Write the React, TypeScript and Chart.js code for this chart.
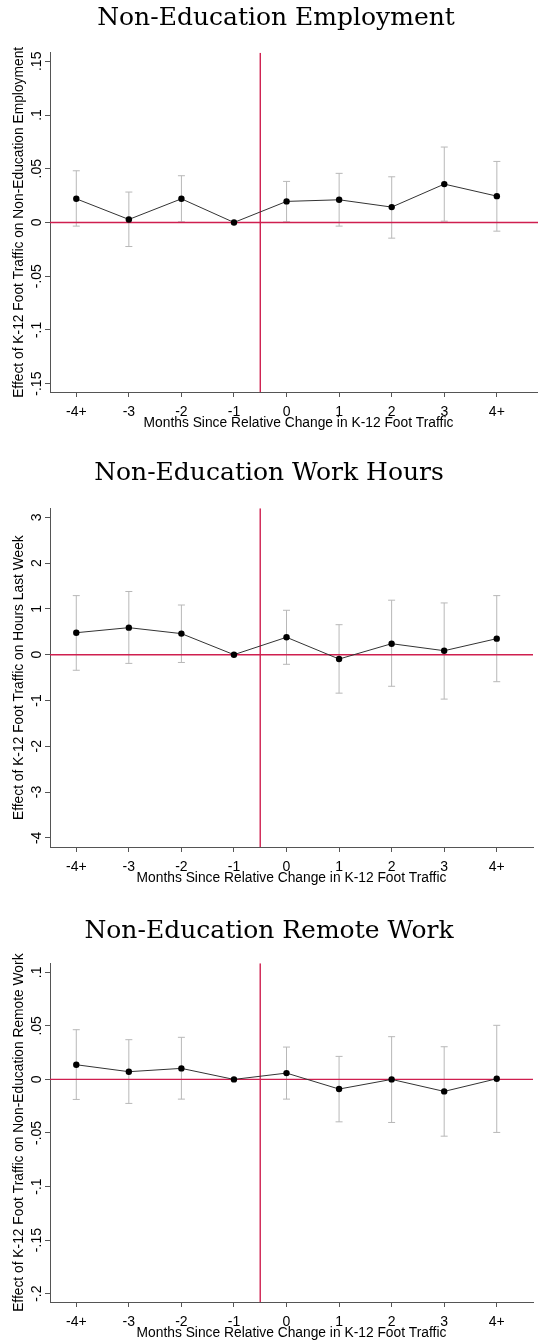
import React, { useEffect, useRef } from "react";
import { Chart, registerables } from "chart.js";

Chart.register(...registerables);

// ---------- data ----------
const categories = ["-4+", "-3", "-2", "-1", "0", "1", "2", "3", "4+"];
const xPositions = [0, 1, 2, 3, 4, 5, 6, 7, 8];
const xMin = -0.5;
const eventAt = 3.5; // between "-1" and "0"

const empEst = [0.022, 0.0028, 0.022, 0, 0.0196, 0.0211, 0.0143, 0.0357, 0.0245];
const empLo = [-0.0034, -0.0224, 0.0006, null, 0.0006, -0.0034, -0.0146, 0.0012, -0.0081];
const empHi = [0.0481, 0.0283, 0.0435, null, 0.0382, 0.0457, 0.0425, 0.0702, 0.0568];
const empTicks = [-0.15, -0.1, -0.05, 0, 0.05, 0.1, 0.15];
const empTickLabels = ["-.15", "-.1", "-.05", "0", ".05", ".1", ".15"];

const hrsEst = [0.48, 0.59, 0.46, 0, 0.38, -0.095, 0.24, 0.087, 0.35];
const hrsLo = [-0.34, -0.19, -0.17, null, -0.21, -0.84, -0.69, -0.97, -0.59];
const hrsHi = [1.29, 1.38, 1.085, null, 0.97, 0.655, 1.19, 1.13, 1.29];
const hrsTicks = [-4, -3, -2, -1, 0, 1, 2, 3];
const hrsTickLabels = ["-4", "-3", "-2", "-1", "0", "1", "2", "3"];

const remEst = [0.0137, 0.0072, 0.0103, 0, 0.0059, -0.009, 0, -0.0112, 0.0006];
const remLo = [-0.0187, -0.0224, -0.0184, null, -0.0184, -0.0396, -0.0402, -0.053, -0.0495];
const remHi = [0.0464, 0.0371, 0.0393, null, 0.0302, 0.0215, 0.0399, 0.0305, 0.0505];
const remTicks = [-0.2, -0.15, -0.1, -0.05, 0, 0.05, 0.1];
const remTickLabels = ["-.2", "-.15", "-.1", "-.05", "0", ".05", ".1"];

const xTitle = "Months Since Relative Change in K-12 Foot Traffic";

// ---------- styles ----------
const RED = "#cf1f4f";
const CI_GRAY = "#b8b8b8";
const AXIS = "#555555";
const SANS = '"Liberation Sans", Arial, sans-serif';
const SERIF = '"DejaVu Serif", serif';
const TICK_SIZE = 14;
const TITLE_SIZE = 13.8;
const Y_AXIS_WIDTH = 50;
const X_AXIS_HEIGHT = 42;
const TICK_LEN = 5;

type Panel = {
  title: string;
  yTitle: string;
  est: number[];
  lo: (number | null)[];
  hi: (number | null)[];
  yTicks: number[];
  yTickLabels: string[];
  yMin: number;
  yMax: number;
  xMax: number;
  top: number;
  width: number;
  height: number;
  titlePadTop: number;
  titlePadBottom: number;
};

const panels: Panel[] = [
  {
    title: "Non-Education Employment",
    yTitle: "Effect of K-12 Foot Traffic on Non-Education Employment",
    est: empEst, lo: empLo, hi: empHi,
    yTicks: empTicks, yTickLabels: empTickLabels,
    yMin: -0.1578, yMax: 0.158,
    xMax: 8.954,
    top: 0, width: 552, height: 434,
    titlePadTop: 3, titlePadBottom: 19.7,
  },
  {
    title: "Non-Education Work Hours",
    yTitle: "Effect of K-12 Foot Traffic on Hours Last Week",
    est: hrsEst, lo: hrsLo, hi: hrsHi,
    yTicks: hrsTicks, yTickLabels: hrsTickLabels,
    yMin: -4.2, yMax: 3.197,
    xMax: 8.69,
    top: 434, width: 538, height: 455,
    titlePadTop: 24.7, titlePadBottom: 19.6,
  },
  {
    title: "Non-Education Remote Work",
    yTitle: "Effect of K-12 Foot Traffic on Non-Education Remote Work",
    est: remEst, lo: remLo, hi: remHi,
    yTicks: remTicks, yTickLabels: remTickLabels,
    yMin: -0.2078, yMax: 0.1084,
    xMax: 8.69,
    top: 889, width: 538, height: 455,
    titlePadTop: 27.2, titlePadBottom: 17.1,
  },
];

function widestLabel(labels: string[], font: string): number {
  const c = document.createElement("canvas").getContext("2d");
  if (!c) return 20;
  c.font = font;
  return Math.max(...labels.map((l) => c.measureText(l).width));
}

function PanelChart({ p }: { p: Panel }) {
  const ref = useRef<HTMLCanvasElement>(null);

  useEffect(() => {
    if (!ref.current) return;
    const widest = widestLabel(p.yTickLabels, `${TICK_SIZE}px ${SANS}`);
    const yTickPad = Y_AXIS_WIDTH - TICK_LEN - 36.7 - widest / 2;

    const whiskers: { x: number; y: number | null }[] = [];
    const caps: { x: number; y: number }[] = [];
    xPositions.forEach((x, i) => {
      const lo = p.lo[i];
      const hi = p.hi[i];
      if (lo == null || hi == null) return;
      whiskers.push({ x, y: lo }, { x, y: hi }, { x, y: null });
      caps.push({ x, y: lo }, { x, y: hi });
    });

    const chart = new Chart(ref.current, {
      type: "line",
      data: {
        datasets: [
          {
            data: xPositions.map((x, i) => ({ x, y: p.est[i] })),
            borderColor: "#333333",
            borderWidth: 1,
            pointRadius: 3.2,
            pointBackgroundColor: "#000000",
            pointBorderColor: "#000000",
            pointBorderWidth: 0,
            tension: 0,
          },
          {
            data: [
              { x: xMin, y: 0 },
              { x: p.xMax, y: 0 },
            ],
            borderColor: RED,
            borderWidth: 1.4,
            pointRadius: 0,
          },
          {
            data: [
              { x: eventAt, y: p.yMin },
              { x: eventAt, y: p.yMax },
            ],
            borderColor: RED,
            borderWidth: 1.4,
            pointRadius: 0,
          },
          {
            data: caps,
            showLine: false,
            pointStyle: "line",
            pointRadius: 3.5,
            pointBorderColor: CI_GRAY,
            pointBorderWidth: 1,
          },
          {
            data: whiskers,
            borderColor: CI_GRAY,
            borderWidth: 1,
            pointRadius: 0,
            spanGaps: false,
          },
        ],
      } as any,
      options: {
        responsive: false,
        animation: false,
        events: [],
        layout: { padding: 0 },
        plugins: {
          legend: { display: false },
          tooltip: { enabled: false },
          title: {
            display: true,
            text: p.title,
            color: "#000000",
            font: { family: SERIF, size: 25, weight: "normal", lineHeight: 1.2 },
            padding: { top: p.titlePadTop, bottom: p.titlePadBottom },
          },
        },
        scales: {
          x: {
            type: "linear",
            min: xMin,
            max: p.xMax,
            afterBuildTicks: (scale: any) => {
              scale.ticks = xPositions.map((v) => ({ value: v }));
            },
            afterFit: (scale: any) => {
              scale.height = X_AXIS_HEIGHT;
            },
            ticks: {
              autoSkip: false,
              maxRotation: 0,
              minRotation: 0,
              padding: 7,
              color: "#000000",
              font: { family: SANS, size: TICK_SIZE },
              callback: (value: any) => {
                const idx = xPositions.indexOf(Number(value));
                return idx >= 0 ? categories[idx] : "";
              },
            },
            grid: {
              display: true,
              drawOnChartArea: false,
              drawTicks: true,
              tickLength: TICK_LEN,
              tickColor: AXIS,
              tickWidth: 1,
            },
            border: { display: true, color: AXIS, width: 1 },
            title: {
              display: true,
              text: xTitle,
              color: "#000000",
              font: { family: SANS, size: TITLE_SIZE, lineHeight: 1.2 },
              padding: { top: 0, bottom: 2.2 },
            },
          },
          y: {
            type: "linear",
            min: p.yMin,
            max: p.yMax,
            afterBuildTicks: (scale: any) => {
              scale.ticks = p.yTicks.map((v) => ({ value: v }));
            },
            afterFit: (scale: any) => {
              scale.width = Y_AXIS_WIDTH;
            },
            ticks: {
              autoSkip: false,
              minRotation: 90,
              maxRotation: 90,
              crossAlign: "center",
              padding: yTickPad,
              color: "#000000",
              font: { family: SANS, size: TICK_SIZE },
              callback: (value: any) => {
                const idx = p.yTicks.findIndex((t) => Math.abs(t - Number(value)) < 1e-9);
                return idx >= 0 ? p.yTickLabels[idx] : "";
              },
            },
            grid: {
              display: true,
              drawOnChartArea: false,
              drawTicks: true,
              tickLength: TICK_LEN,
              tickColor: AXIS,
              tickWidth: 1,
            },
            border: { display: true, color: AXIS, width: 1 },
            title: {
              display: true,
              text: p.yTitle,
              color: "#000000",
              font: { family: SANS, size: TITLE_SIZE, lineHeight: 1.2 },
              padding: { top: 10.7, bottom: 0 },
            },
          },
        },
      } as any,
    });
    return () => chart.destroy();
  }, [p]);

  return (
    <canvas
      ref={ref}
      width={p.width}
      height={p.height}
      style={{ position: "absolute", left: 0, top: p.top, width: p.width, height: p.height }}
    />
  );
}

export default function App() {
  useEffect(() => {
    document.body.style.overflow = "hidden";
  }, []);
  return (
    <div
      style={{
        position: "absolute",
        left: 0,
        top: 0,
        width: 538,
        height: 1341,
        overflow: "hidden",
        background: "#ffffff",
      }}
    >
      {panels.map((p, i) => (
        <PanelChart key={i} p={p} />
      ))}
    </div>
  );
}
